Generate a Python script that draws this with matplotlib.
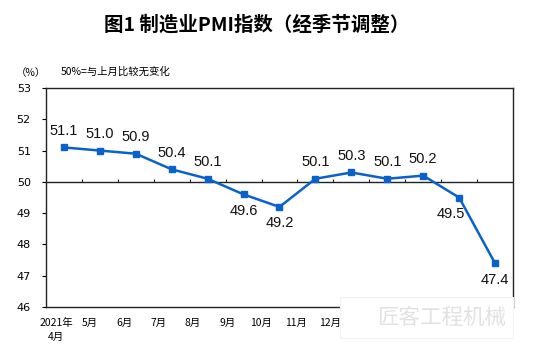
import matplotlib.pyplot as plt
from matplotlib.patches import Rectangle
import numpy as np

plt.rcParams['font.family'] = ['Noto Sans CJK SC', 'DejaVu Sans']

# data: manufacturing PMI, seasonally adjusted
months = ['2021年\n4月', '5月', '6月', '7月', '8月', '9月', '10月', '11月', '12月',
          '2022年\n1月', '2月', '3月', '4月']
pmi = [51.1, 51.0, 50.9, 50.4, 50.1, 49.6, 49.2, 50.1, 50.3, 50.1, 50.2, 49.5, 47.4]
label_below = [False, False, False, False, False, True, True, False, False, False, False, True, True]
n_visible_months = 9  # the rest are covered by the watermark in the original

fig = plt.figure(figsize=(5.54, 3.49), dpi=100)
ax = fig.add_axes([0.083, 0.12, 0.843, 0.628])

x = np.arange(len(pmi))
blue = '#0A62C9'

# reference line at 50 with small category ticks
ax.axhline(50, color='#222222', lw=1.0, zorder=1)
bounds = np.arange(1, len(pmi)) - 0.5
ax.vlines(bounds, 50, 50.1, color='#222222', lw=0.8, zorder=1)

ax.plot(x, pmi, color=blue, lw=1.8, marker='s', markersize=5, zorder=3)

for i, (xi, v, below) in enumerate(zip(x, pmi, label_below)):
    dy = -0.52 if below else 0.52
    dx = -0.22 if i == 11 else 0  # 49.5 sits left of the steep drop
    ax.text(xi + dx, v + dy, '%.1f' % v, ha='center', va='center', fontsize=10.5,
            family='Liberation Sans', color='#111111')

ax.set_xlim(-0.5, len(pmi) - 0.5)
ax.set_ylim(46, 53)
ax.set_yticks(range(46, 54))
ax.tick_params(axis='y', direction='out', length=3, width=0.8, labelsize=8, pad=8)
for lab in ax.get_yticklabels():
    lab.set_family('Liberation Sans Narrow')

# month labels are packed a bit tighter than the categories
ax.set_xticks(-0.22 + 0.953 * x[:n_visible_months])
ax.set_xticklabels(months[:n_visible_months], fontsize=7.5, linespacing=1.5)
ax.tick_params(axis='x', length=0, pad=8)

for s in ax.spines.values():
    s.set_color('#222222')
    s.set_linewidth(1.0)

fig.text(0.463, 0.928, '图1 制造业PMI指数（经季节调整）', ha='center', va='center',
         fontsize=14, fontweight='bold')
fig.text(0.055, 0.79, '（%）', ha='center', va='center', fontsize=7.5)
fig.text(0.11, 0.795, '50%=与上月比较无变化', ha='left', va='center', fontsize=7.5)

# watermark
fig.patches.append(Rectangle((0.614, 0.032), 0.312, 0.117, transform=fig.transFigure,
                             facecolor='white', edgecolor='#f3f3f3', lw=0.8, zorder=5))
fig.text(0.797, 0.088, '匠客工程机械', ha='center', va='center', fontsize=15.5,
         color='#e2e2e2', zorder=6)

fig.savefig('out.png', dpi=100)
